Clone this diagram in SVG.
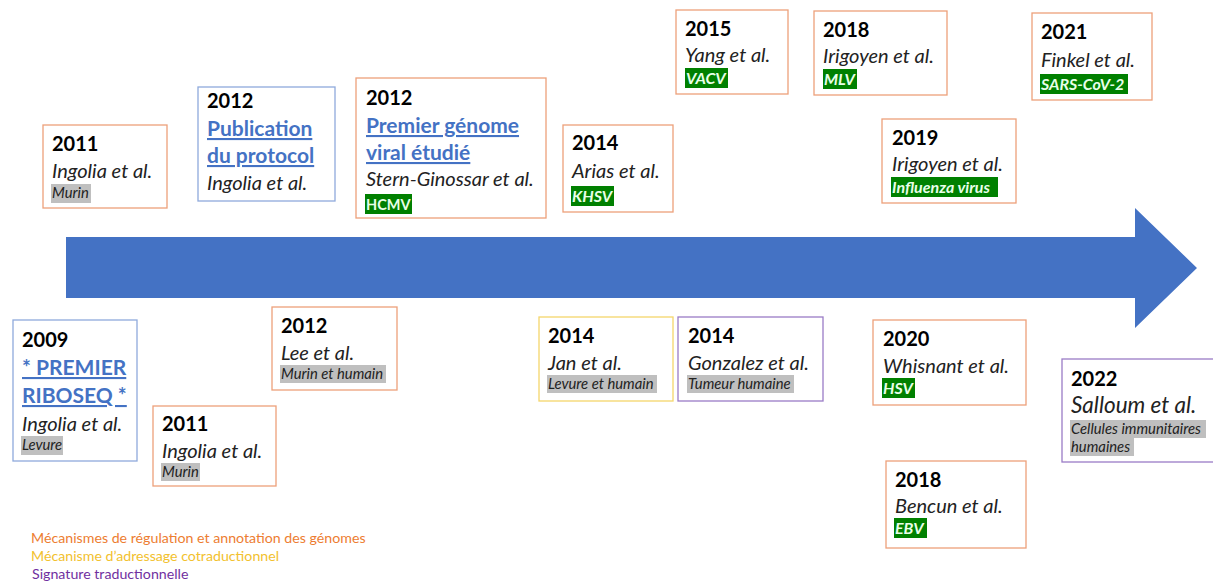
<svg xmlns="http://www.w3.org/2000/svg" width="1213" height="583" viewBox="0 0 1213 583">
<style>
text{font-family:Lato,"Liberation Sans",sans-serif;fill:#000}
.box{fill:#fff;stroke-width:1.3}
.o{stroke:#EDA07A}
.b{stroke:#8FAADC}
.y{stroke:#F5D66B}
.p{stroke:#9A7CC6}
.yr{font-weight:bold;font-size:20px}
.au{font-style:italic;font-size:20px;fill:#222}
.tt{font-weight:bold;font-size:21px;fill:#4472C4;text-decoration:underline}
.gh{fill:#BFBFBF}
.gt{font-style:italic;font-size:14.8px;fill:#222}
.gg{fill:#008000}
.gx{font-style:italic;font-weight:bold;font-size:16px;fill:#E8FFE8}
.lg{font-size:14.2px}
</style>
<rect width="1213" height="583" fill="#fff"/>
<g id="connectors">
<polygon points="66,237 1135,237 1135,208 1197,268 1135,328 1135,298 66,298" fill="#4472C4"/>
</g>
<g id="n2011a">
<rect class="box o" x="43" y="125" width="124" height="83"/>
<text class="yr" x="52" y="151">2011</text>
<text class="au" x="52" y="178">Ingolia et al.</text>
<rect class="gh" x="51" y="184" width="40" height="19"/>
<text class="gt" x="52" y="198">Murin</text>
</g>
<g id="n2012pub">
<rect class="box b" x="198" y="87" width="137" height="114"/>
<text class="yr" x="207" y="108">2012</text>
<text class="tt" x="207" y="136">Publication</text>
<text class="tt" x="207" y="163">du protocol</text>
<text class="au" x="207" y="190">Ingolia et al.</text>
</g>
<g id="n2012gen">
<rect class="box o" x="356" y="78" width="190" height="140"/>
<text class="yr" x="366" y="105">2012</text>
<text class="tt" x="366" y="133">Premier génome</text>
<text class="tt" x="366" y="160">viral étudié</text>
<text class="au" x="366" y="186">Stern-Ginossar et al.</text>
<rect class="gg" x="365" y="194" width="47" height="20"/>
<text class="gx" x="366" y="210" style="font-style:normal;font-size:14.5px">HCMV</text>
</g>
<g id="n2014arias">
<rect class="box o" x="563" y="125" width="110" height="87"/>
<text class="yr" x="572" y="150">2014</text>
<text class="au" x="572" y="178">Arias et al.</text>
<rect class="gg" x="571" y="186" width="43" height="20"/>
<text class="gx" x="572" y="202">KHSV</text>
</g>
<g id="n2015">
<rect class="box o" x="676" y="10" width="112" height="84"/>
<text class="yr" x="685" y="36">2015</text>
<text class="au" x="685" y="62">Yang et al.</text>
<rect class="gg" x="685" y="68" width="43" height="20"/>
<text class="gx" x="686" y="84">VACV</text>
</g>
<g id="n2018mlv">
<rect class="box o" x="814" y="11" width="133" height="84"/>
<text class="yr" x="823" y="37">2018</text>
<text class="au" x="823" y="63">Irigoyen et al.</text>
<rect class="gg" x="823" y="69" width="34" height="20"/>
<text class="gx" x="824" y="85">MLV</text>
</g>
<g id="n2021">
<rect class="box o" x="1032" y="13" width="120" height="87"/>
<text class="yr" x="1041" y="39">2021</text>
<text class="au" x="1041" y="67">Finkel et al.</text>
<rect class="gg" x="1040" y="74" width="88" height="20"/>
<text class="gx" x="1041" y="90">SARS-CoV-2</text>
</g>
<g id="n2019">
<rect class="box o" x="882" y="119" width="134" height="84"/>
<text class="yr" x="892" y="145">2019</text>
<text class="au" x="892" y="171">Irigoyen et al.</text>
<rect class="gg" x="891" y="177" width="107" height="20"/>
<text class="gx" x="892" y="193">Influenza virus</text>
</g>
<g id="n2009">
<rect class="box b" x="13" y="320" width="124" height="141"/>
<text class="yr" x="22" y="347">2009</text>
<text class="tt" x="22" y="375">* PREMIER</text>
<text class="tt" x="22" y="403">RIBOSEQ *</text>
<text class="au" x="22" y="431">Ingolia et al.</text>
<rect class="gh" x="21" y="436" width="42" height="19"/>
<text class="gt" x="22" y="450">Levure</text>
</g>
<g id="n2011b">
<rect class="box o" x="153" y="406" width="123" height="80"/>
<text class="yr" x="162" y="431">2011</text>
<text class="au" x="162" y="458">Ingolia et al.</text>
<rect class="gh" x="161" y="463" width="39" height="18"/>
<text class="gt" x="162" y="477">Murin</text>
</g>
<g id="n2012lee">
<rect class="box o" x="272" y="307" width="125" height="83"/>
<text class="yr" x="281" y="333">2012</text>
<text class="au" x="281" y="360">Lee et al.</text>
<rect class="gh" x="280" y="365" width="106" height="18"/>
<text class="gt" x="281" y="379">Murin et humain</text>
</g>
<g id="n2014jan">
<rect class="box y" x="539" y="317" width="134" height="84"/>
<text class="yr" x="548" y="343">2014</text>
<text class="au" x="548" y="370">Jan et al.</text>
<rect class="gh" x="547" y="375" width="110" height="18"/>
<text class="gt" x="548" y="389">Levure et humain</text>
</g>
<g id="n2014gon">
<rect class="box p" x="678" y="317" width="145" height="84"/>
<text class="yr" x="688" y="343">2014</text>
<text class="au" x="688" y="370">Gonzalez et al.</text>
<rect class="gh" x="687" y="375" width="107" height="18"/>
<text class="gt" x="688" y="389">Tumeur humaine</text>
</g>
<g id="n2020">
<rect class="box o" x="873" y="320" width="153" height="85"/>
<text class="yr" x="883" y="346">2020</text>
<text class="au" x="883" y="373">Whisnant et al.</text>
<rect class="gg" x="882" y="378" width="33" height="20"/>
<text class="gx" x="883" y="394">HSV</text>
</g>
<g id="n2018ebv">
<rect class="box o" x="886" y="461" width="140" height="87"/>
<text class="yr" x="895" y="487">2018</text>
<text class="au" x="895" y="513">Bencun et al.</text>
<rect class="gg" x="894" y="518" width="33" height="20"/>
<text class="gx" x="895" y="534">EBV</text>
</g>
<g id="n2022">
<rect class="box p" x="1062" y="359" width="160" height="103"/>
<text class="yr" x="1071" y="386">2022</text>
<text class="au" x="1071" y="413" style="font-size:22.5px">Salloum et al.</text>
<rect class="gh" x="1070" y="420" width="136" height="18"/>
<rect class="gh" x="1070" y="438" width="64" height="18"/>
<text class="gt" x="1071" y="434">Cellules immunitaires</text>
<text class="gt" x="1071" y="452">humaines</text>
</g>
<g id="legend">
<text class="lg" x="31" y="543" style="fill:#ED7D31">Mécanismes de régulation et annotation des génomes</text>
<text class="lg" x="31" y="561" style="fill:#F2C12E">Mécanisme d’adressage cotraductionnel</text>
<text class="lg" x="32" y="579" style="fill:#7030A0">Signature traductionnelle</text>
</g>
</svg>
